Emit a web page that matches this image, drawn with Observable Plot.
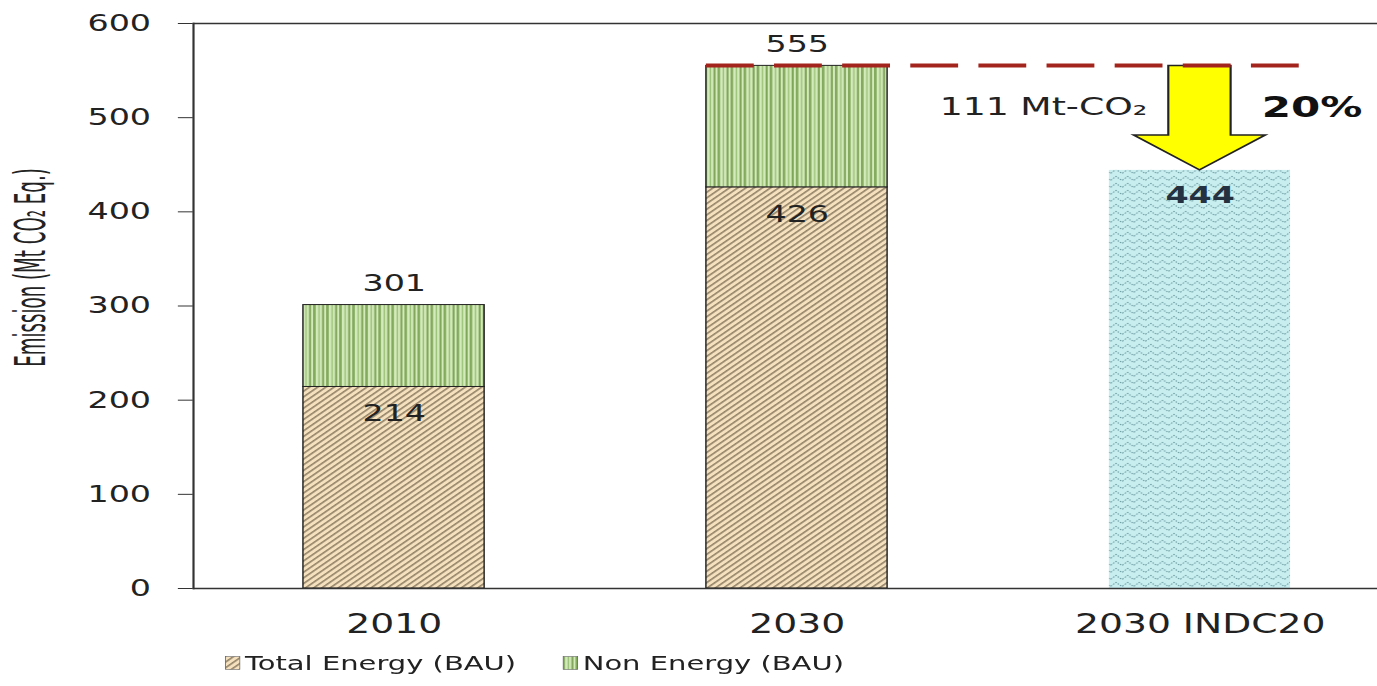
<!DOCTYPE html>
<html><head><meta charset="utf-8">
<script src="https://cdn.jsdelivr.net/npm/d3@7"></script>
<script src="https://cdn.jsdelivr.net/npm/@observablehq/plot@0.6"></script>
<style>
html,body{margin:0;padding:0;background:#fff;overflow:hidden;}
#wrap{width:950px;transform:scaleX(1.4495);transform-origin:0 0;}
#chart svg{display:block;}
#legend{height:46px;position:relative;font-family:"DejaVu Sans",sans-serif;font-size:20px;color:#222;}
.item{position:absolute;top:11px;display:flex;align-items:center;white-space:nowrap;}
.item svg{margin-right:3px;}
</style></head><body>
<div id="wrap"><div id="chart"></div><div id="legend"></div></div>
<script>
// ---- data ----
const categories = ["2010", "2030", "2030 INDC20"];
const energyBAU = [214, 426, null];
const nonEnergyBAU = [87, 129, null];
const indc20 = [null, null, 444];
const bauTotal2030 = 555;
const reduction = 111;
const reductionPct = "20%";
const yTicks = [0, 100, 200, 300, 400, 500, 600];
const seriesNames = ["Total Energy (BAU)", "Non Energy (BAU)"];
const yTitle = "Emission (Mt CO\u2082 Eq.)";

// ---- tables built from arrays ----
const energyRows = categories.map((c, i) => ({cat: c, y1: 0, y2: energyBAU[i]})).filter(d => d.y2 != null);
const nonRows = categories.map((c, i) => ({cat: c, y1: energyBAU[i], y2: energyBAU[i] + nonEnergyBAU[i], ok: nonEnergyBAU[i] != null})).filter(d => d.ok);
const indcRows = categories.map((c, i) => ({cat: c, y1: 0, y2: indc20[i]})).filter(d => d.y2 != null);

const W = 950, H = 640;
const font = "DejaVu Sans, sans-serif";

const plot = Plot.plot({
  width: W, height: H,
  marginLeft: 133, marginRight: 0, marginTop: 23, marginBottom: 52,
  style: {fontFamily: font, color: "#222", background: "#fff"},
  x: {domain: categories, range: [133, 966.5], paddingInner: 0.551, paddingOuter: 0.273, label: null},
  y: {domain: [0, 600], label: null},
  marks: [
    Plot.barY(energyRows, {x: "cat", y1: "y1", y2: "y2", fill: "url(#hatch)", stroke: "#222", strokeWidth: 1}),
    Plot.barY(nonRows, {x: "cat", y1: "y1", y2: "y2", fill: "url(#vstripe)", stroke: "#222", strokeWidth: 1}),
    Plot.barY(indcRows, {x: "cat", y1: "y1", y2: "y2", fill: "url(#wave)"}),
    Plot.ruleY([0, 600], {stroke: "#333", strokeWidth: 1.5}),
    Plot.frame({anchor: "left", stroke: "#333", strokeWidth: 1.5}),
    Plot.axisY({ticks: yTicks, tickSize: 10.3, tickPadding: 19, fontSize: 23, label: null, tickFormat: d => String(d), stroke: "#333"}),
    Plot.axisX({tickSize: 0, tickPadding: 26, fontSize: 26, label: null}),
    Plot.text(nonRows, {x: "cat", y: "y2", text: d => String(d.y2), dy: -21, fontSize: 23, fill: "#222"}),
    Plot.text(energyRows, {x: "cat", y: "y2", text: d => String(d.y2), dy: 27, fontSize: 23, fill: "#222"}),
    Plot.text(indcRows, {x: "cat", y: "y2", text: d => String(d.y2), dy: 25, fontSize: 23, fontWeight: "bold", fill: "#243140"})
  ]
});
document.getElementById("chart").appendChild(plot);

const svg = d3.select(plot);
const defs = svg.insert("defs", ":first-child");
// diagonal hatch
const p1 = defs.append("pattern").attr("id", "hatch").attr("patternUnits", "userSpaceOnUse")
  .attr("width", 4).attr("height", 4).attr("patternTransform", "rotate(45)");
p1.append("rect").attr("width", 4).attr("height", 4).attr("fill", "#f6e1bf");
p1.append("rect").attr("x", 0).attr("width", 1.4).attr("height", 4).attr("fill", "#948468");
// vertical green stripes
const p2 = defs.append("pattern").attr("id", "vstripe").attr("patternUnits", "userSpaceOnUse")
  .attr("width", 9).attr("height", 9);
p2.append("rect").attr("width", 9).attr("height", 9).attr("fill", "#d3eabb");
p2.append("rect").attr("x", 0).attr("width", 1.8).attr("height", 9).attr("fill", "#84aa5e");
p2.append("rect").attr("x", 3.6).attr("width", 1).attr("height", 9).attr("fill", "#9cc278");
p2.append("rect").attr("x", 6.2).attr("width", 1.4).attr("height", 9).attr("fill", "#7ea457");
// wavy dotted cyan
const p3 = defs.append("pattern").attr("id", "wave").attr("patternUnits", "userSpaceOnUse")
  .attr("width", 8).attr("height", 7);
p3.append("rect").attr("width", 8).attr("height", 7).attr("fill", "#c8eef0");
p3.append("path").attr("d", "M0,3.5 L2,1.5 L4,3.5 L6,5.5 L8,3.5").attr("fill", "none")
  .attr("stroke", "#6f9ea3").attr("stroke-width", 1).attr("stroke-dasharray", "1.2,1");

// annotation using the plot's own scales
const xs = plot.scale("x"), ys = plot.scale("y");
const bw = xs.bandwidth;
const x2030 = xs.apply("2030");
const xI = xs.apply("2030 INDC20");
const cx = xI + bw / 2;
const yTop = ys.apply(bauTotal2030);
const yTip = ys.apply(indc20[2]);
const yBase = yTip - 35;
const sh = 21.5, hh = 45.5;
svg.append("path")
  .attr("d", `M${cx - sh},${yTop} L${cx + sh},${yTop} L${cx + sh},${yBase} L${cx + hh},${yBase} L${cx},${yTip} L${cx - hh},${yBase} L${cx - sh},${yBase} Z`)
  .attr("fill", "#ffff00").attr("stroke", "#222").attr("stroke-width", 1.5).attr("stroke-linejoin", "miter");
svg.append("line")
  .attr("x1", x2030).attr("x2", xI + bw + 15).attr("y1", yTop).attr("y2", yTop)
  .attr("stroke", "#a3241d").attr("stroke-width", 4).attr("stroke-dasharray", "33 14");
svg.append("text").attr("x", cx - 36).attr("y", yTop + 41).attr("text-anchor", "end")
  .attr("dy", "0.35em").attr("font-size", 25).attr("font-family", font).attr("fill", "#222")
  .text(`${reduction} Mt-CO\u2082`);
svg.append("text").attr("x", cx + 43).attr("y", yTop + 41).attr("text-anchor", "start")
  .attr("dy", "0.35em").attr("font-size", 29).attr("font-weight", "bold").attr("font-family", font).attr("fill", "#111")
  .text(reductionPct);
// y title
svg.append("text").attr("transform", `translate(21,${(ys.apply(600) + ys.apply(0)) / 2 - 38}) rotate(-90) scale(0.88,1.29)`)
  .attr("text-anchor", "middle").attr("dy", "0.35em").attr("font-size", 23)
  .attr("font-family", "Liberation Sans Narrow, DejaVu Sans Condensed, sans-serif").attr("fill", "#222")
  .text(yTitle);

// legend
const legend = d3.select("#legend");
const fills = ["url(#hatch)", "url(#vstripe)"];
const lefts = [155, 388];
seriesNames.forEach((n, i) => {
  const it = legend.append("div").attr("class", "item").style("left", lefts[i] + "px");
  const s = it.append("svg").attr("width", 11).attr("height", 14);
  s.append("rect").attr("x", 0.5).attr("y", 0.5).attr("width", 10).attr("height", 13)
    .attr("fill", fills[i]).attr("stroke", "#666").attr("stroke-width", 0.6);
  it.append("span").text(n);
});
</script>
</body></html>
